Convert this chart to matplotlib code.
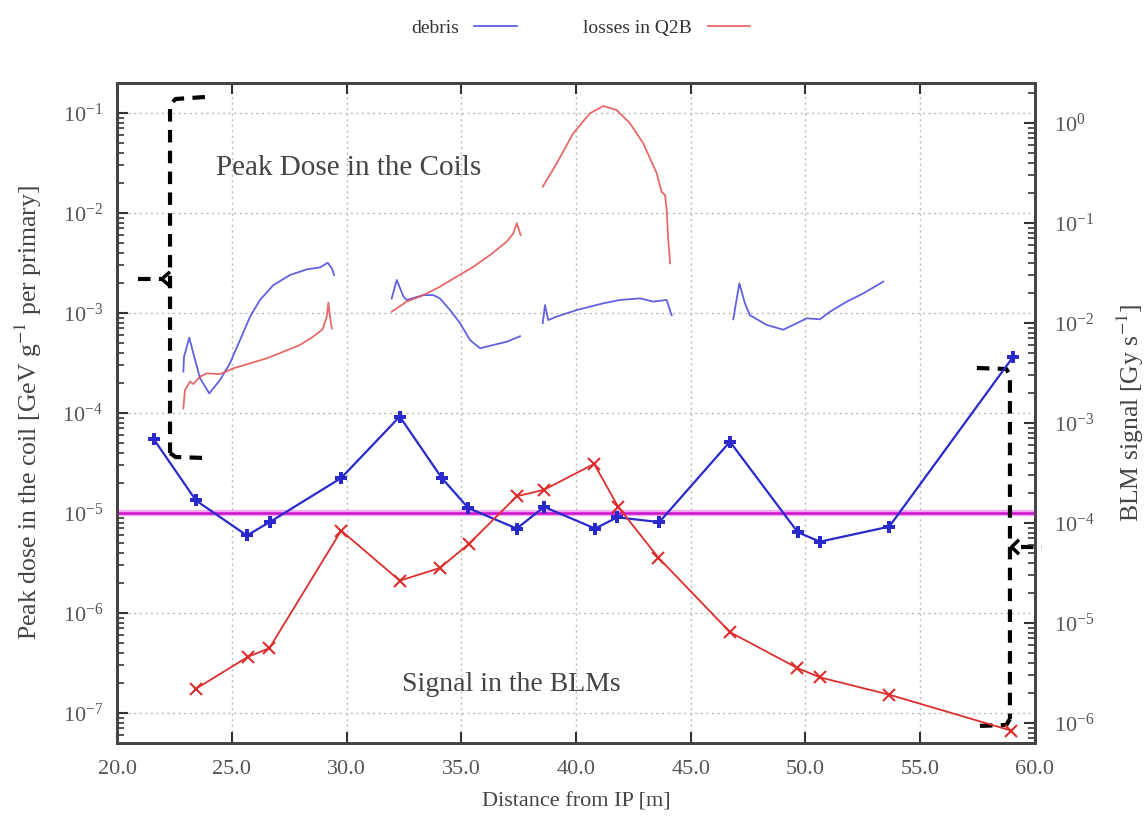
import numpy as np
import matplotlib
matplotlib.use("Agg")
import matplotlib.pyplot as plt
from matplotlib.ticker import LogLocator, FixedLocator, FormatStrFormatter, NullFormatter

plt.rcParams['font.family'] = ['Liberation Serif', 'DejaVu Serif']
plt.rcParams['mathtext.fontset'] = 'stix'

# peak dose in the coils, debris (left axis) - one list per magnet segment
deb_x1 = [22.89, 22.92, 23.15, 23.40, 23.62, 24.02, 24.49, 24.92, 25.36, 25.80, 26.23, 26.81, 27.54, 28.27, 28.85, 29.18, 29.36, 29.46]
deb_y1 = [2.6e-4, 3.65e-4, 5.66e-4, 3.4e-4, 2.22e-4, 1.57e-4, 2.14e-4, 3.14e-4, 5.37e-4, 9.2e-4, 1.35e-3, 1.9e-3, 2.4e-3, 2.73e-3, 2.86e-3, 3.18e-3, 2.8e-3, 2.4e-3]
deb_x2 = [31.97, 32.19, 32.48, 32.62, 33.35, 33.78, 34.07, 34.51, 34.95, 35.38, 35.82, 36.40, 36.98, 37.56]
deb_y2 = [1.4e-3, 2.14e-3, 1.46e-3, 1.35e-3, 1.51e-3, 1.51e-3, 1.4e-3, 1.07e-3, 7.9e-4, 5.37e-4, 4.44e-4, 4.79e-4, 5.16e-4, 5.85e-4]
deb_x3 = [38.55, 38.65, 38.79, 39.16, 40.03, 41.19, 41.92, 42.79, 43.37, 43.95, 44.17]
deb_y3 = [7.9e-4, 1.2e-3, 8.5e-4, 9.2e-4, 1.07e-3, 1.25e-3, 1.35e-3, 1.4e-3, 1.3e-3, 1.35e-3, 9.5e-4]
deb_x4 = [46.85, 47.12, 47.36, 47.58, 48.31, 49.03, 49.62, 50.05, 50.63, 51.07, 51.80, 52.52, 53.39]
deb_y4 = [8.65e-4, 1.98e-3, 1.25e-3, 9.5e-4, 7.6e-4, 6.8e-4, 7.9e-4, 8.85e-4, 8.65e-4, 1.03e-3, 1.3e-3, 1.57e-3, 2.06e-3]

# peak dose in the coils, losses in Q2B (left axis)
q2b_x1 = [22.89, 22.96, 23.18, 23.32, 23.62, 23.91, 24.49, 25.07, 25.80, 26.52, 27.25, 27.97, 28.55, 28.96, 29.14, 29.21, 29.28, 29.36]
q2b_y1 = [1.11e-4, 1.7e-4, 2.06e-4, 1.95e-4, 2.31e-4, 2.49e-4, 2.45e-4, 2.8e-4, 3.14e-4, 3.52e-4, 4.1e-4, 4.79e-4, 5.8e-4, 6.87e-4, 9.2e-4, 1.27e-3, 9.2e-4, 7.0e-4]
q2b_x2 = [31.97, 32.62, 33.35, 34.07, 34.80, 35.53, 36.25, 36.98, 37.27, 37.42, 37.59]
q2b_y2 = [1.03e-3, 1.3e-3, 1.51e-3, 1.83e-3, 2.31e-3, 2.9e-3, 3.8e-3, 5.16e-3, 6.27e-3, 7.9e-3, 6.0e-3]
q2b_x3 = [38.55, 39.16, 39.88, 40.61, 41.19, 41.77, 42.35, 42.93, 43.52, 43.73, 43.88, 43.95, 44.02, 44.10]
q2b_y3 = [1.83e-2, 3.14e-2, 6.27e-2, 9.93e-2, 0.1175, 0.107, 7.9e-2, 4.98e-2, 2.49e-2, 1.63e-2, 1.51e-2, 1.07e-2, 5.4e-3, 3.14e-3]

# BLM signal (right axis, Gy/s)
blm_deb_x = [21.60, 23.44, 25.66, 26.68, 29.77, 32.32, 34.15, 35.31, 37.42, 38.61, 40.83, 41.80, 43.63, 46.71, 49.66, 50.63, 53.65, 59.05]
blm_deb_y = [6.9e-4, 1.68e-4, 7.5e-5, 1.03e-4, 2.82e-4, 1.16e-3, 2.82e-4, 1.41e-4, 8.8e-5, 1.45e-4, 8.8e-5, 1.14e-4, 1.02e-4, 6.5e-4, 8.1e-5, 6.5e-5, 9.2e-5, 4.6e-3]
blm_q2b_x = [23.44, 25.71, 26.64, 29.77, 32.32, 34.07, 35.34, 37.42, 38.61, 40.79, 41.84, 43.59, 46.71, 49.64, 50.63, 53.65, 58.96]
blm_q2b_y = [2.2e-6, 4.6e-6, 5.6e-6, 8.4e-5, 2.65e-5, 3.55e-5, 6.2e-5, 1.85e-4, 2.15e-4, 3.9e-4, 1.45e-4, 4.5e-5, 8.1e-6, 3.55e-6, 2.86e-6, 1.92e-6, 8.4e-7]

threshold = 1e-5  # left axis

left_ticks = [1e-7, 1e-6, 1e-5, 1e-4, 1e-3, 1e-2, 1e-1]
right_ticks = [1e-6, 1e-5, 1e-4, 1e-3, 1e-2, 1e-1, 1e0]

c_blue = '#4646dc'
c_red = '#e35050'
c_blue_d = '#2a2acc'
c_red_d = '#dd2e2e'
txt = '#444444'

fig = plt.figure(figsize=(11.45, 8.25), dpi=100)
ax = fig.add_axes([0.1022, 0.0994, 0.8017, 0.8000])
ax2 = ax.twinx()

ax.set_yscale('log')
ax2.set_yscale('log')
ax.set_xlim(20, 60)
ax.set_ylim(10 ** -7.3, 10 ** -0.7)
ax2.set_ylim(10 ** -6.2, 10 ** 0.4)

# coil dose curves
l_deb, = ax.plot(deb_x1, deb_y1, color=c_blue, lw=1.3, alpha=0.85, label='debris')
ax.plot(deb_x2, deb_y2, color=c_blue, lw=1.3, alpha=0.85)
ax.plot(deb_x3, deb_y3, color=c_blue, lw=1.3, alpha=0.85)
ax.plot(deb_x4, deb_y4, color=c_blue, lw=1.3, alpha=0.85)
l_q2b, = ax.plot(q2b_x1, q2b_y1, color=c_red, lw=1.3, alpha=0.85, label='losses in Q2B')
ax.plot(q2b_x2, q2b_y2, color=c_red, lw=1.3, alpha=0.85)
ax.plot(q2b_x3, q2b_y3, color=c_red, lw=1.3, alpha=0.85)

# threshold line
ax.axhline(threshold, color='#f2aaf2', lw=4.5, zorder=3)
ax.axhline(threshold, color='#cc11cc', lw=1.8, zorder=3)

# BLM signals
ax2.plot(blm_deb_x, blm_deb_y, color=c_blue_d, lw=1.6, marker='P', ms=8, mew=0)
ax2.plot(blm_q2b_x, blm_q2b_y, color=c_red_d, lw=1.3, marker='x', ms=8, mew=1.5)

# grid
ax.grid(True, which='major', color='#bbbbbb', ls=(0, (1.5, 2.5)), lw=1)
ax.set_axisbelow(True)

# ticks
ax.set_xticks(np.arange(20, 61, 5))
ax.xaxis.set_major_formatter(FormatStrFormatter('%.1f'))
ax.yaxis.set_major_locator(FixedLocator(left_ticks))
ax.yaxis.set_minor_locator(LogLocator(base=10, subs=np.arange(2, 10), numticks=20))
ax.yaxis.set_minor_formatter(NullFormatter())
ax2.yaxis.set_major_locator(FixedLocator(right_ticks))
ax2.yaxis.set_minor_locator(LogLocator(base=10, subs=np.arange(2, 10), numticks=20))
ax2.yaxis.set_minor_formatter(NullFormatter())
ax.tick_params(axis='x', which='major', direction='in', top=True, bottom=True, length=8, width=1.5,
               labelsize=16, labelcolor='#555555', pad=12, color='#333333')
ax.tick_params(axis='y', which='major', direction='in', left=True, right=False, length=8, width=1.5,
               labelsize=16, labelcolor='#555555', pad=10, color='#333333')
ax.tick_params(axis='y', which='minor', direction='in', left=True, right=False, length=5, width=1.2, color='#333333')
ax2.tick_params(axis='y', which='major', direction='in', length=8, width=1.5,
                labelsize=16, labelcolor='#555555', pad=14, color='#333333')
ax2.tick_params(axis='y', which='minor', direction='in', length=5, width=1.2, color='#333333')

for a in (ax, ax2):
    for s in a.spines.values():
        s.set_linewidth(2)
        s.set_color('#444444')

ax.set_xlabel('Distance from IP [m]', fontsize=16, color=txt, labelpad=10)
ax.set_ylabel('Peak dose in the coil [GeV g$^{-1}$ per primary]', fontsize=18.5, color=txt, labelpad=13)
ax2.set_ylabel('BLM signal [Gy s$^{-1}$]', fontsize=18.5, color=txt, rotation=90, labelpad=14)

ax.text(30.1, 10 ** -1.55, 'Peak Dose in the Coils', fontsize=21, color=txt, ha='center', va='center')
ax.text(37.2, 10 ** -6.72, 'Signal in the BLMs', fontsize=20, color=txt, ha='center', va='center')

# dashed brackets
bk = dict(color='black', lw=3, ls=(0, (3, 2)), clip_on=False, zorder=5)
ax.plot([23.83, 22.55, 22.31, 22.31], [10 ** -0.84, 10 ** -0.86, 10 ** -0.92, 10 ** -4.40], **bk)
ax.plot([22.31, 22.55, 23.83], [10 ** -4.40, 10 ** -4.44, 10 ** -4.45], **bk)
ax.plot([20.92, 21.90], [10 ** -2.66, 10 ** -2.66], **bk)
ax.plot([22.25, 21.95, 22.25], [10 ** -2.60, 10 ** -2.66, 10 ** -2.72], color='black', lw=2.5, clip_on=False)
ax.plot([57.47, 58.75, 58.91, 58.91], [10 ** -3.55, 10 ** -3.56, 10 ** -3.62, 10 ** -7.06], **bk)
ax.plot([58.91, 58.75, 57.47], [10 ** -7.06, 10 ** -7.12, 10 ** -7.13], **bk)
ax.plot([59.40, 60.30], [10 ** -5.34, 10 ** -5.34], **bk)
ax.plot([59.25, 58.98, 59.25], [10 ** -5.28, 10 ** -5.34, 10 ** -5.40], color='black', lw=2.5, clip_on=False)

leg = fig.legend(handles=[l_deb, l_q2b], loc='center', bbox_to_anchor=(0.507, 0.966), ncol=2,
                 frameon=False, markerfirst=False, fontsize=14, handlelength=2.2, columnspacing=3.4)
for t in leg.get_texts():
    t.set_color('#333333')

fig.savefig('out.png', dpi=100)
